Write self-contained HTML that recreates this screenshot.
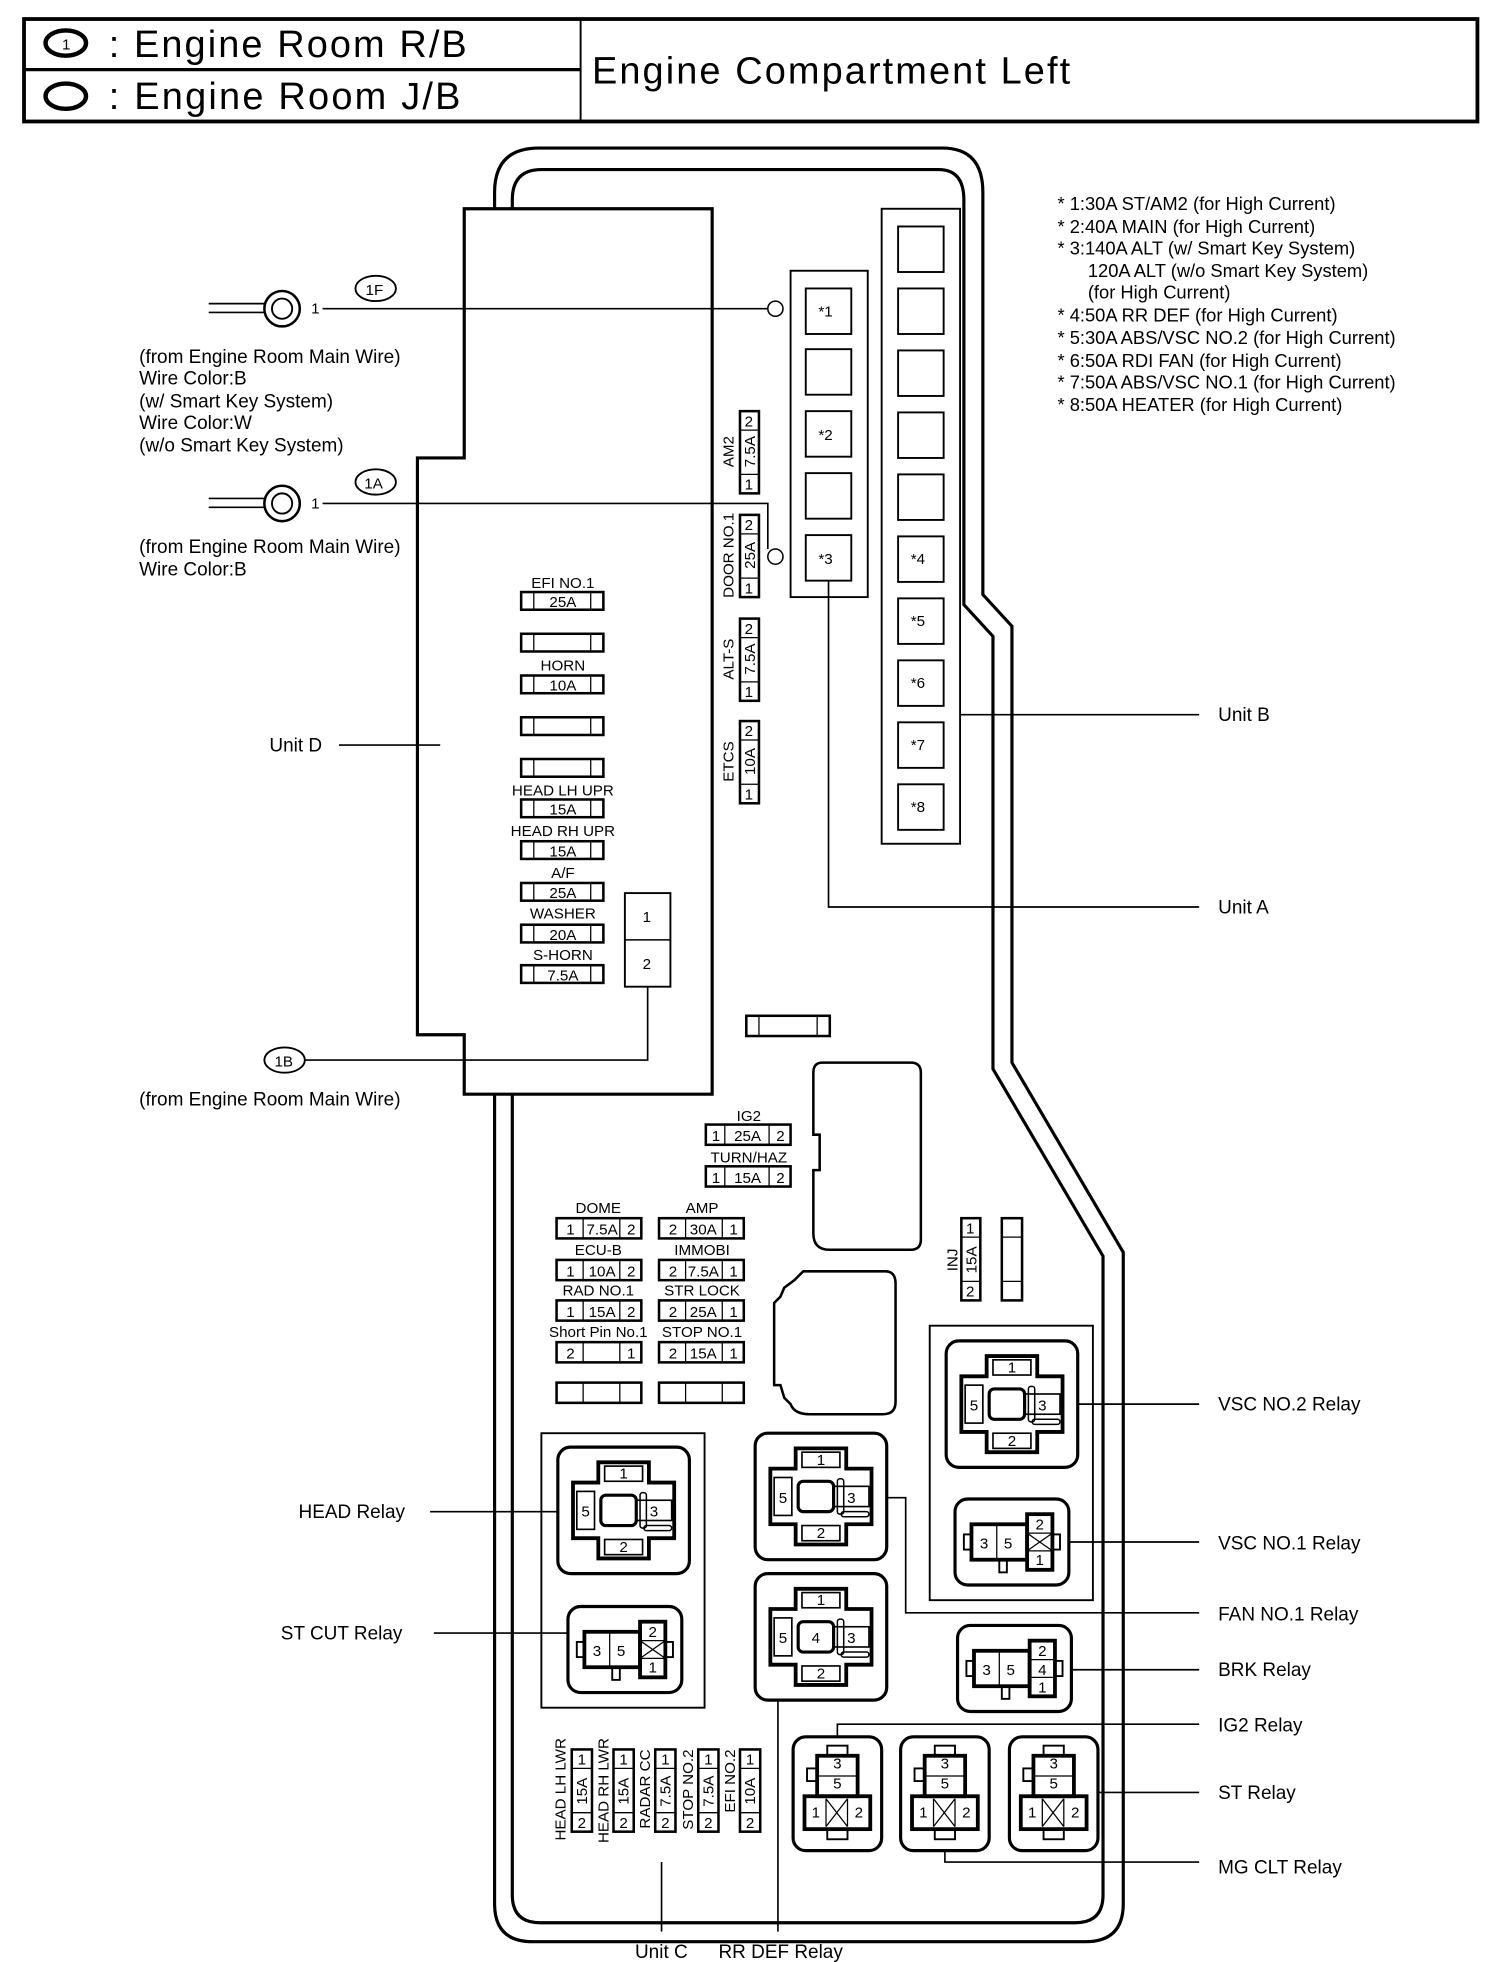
<!DOCTYPE html>
<html><head><meta charset="utf-8"><style>
html,body{margin:0;padding:0;background:#fff}
svg{display:block}
text{font-family:"Liberation Sans",Arial,sans-serif;fill:#000}
.t{font-size:15px}
.s{font-size:12px}
.f{font-size:12px;text-anchor:middle}
</style></head><body>
<svg width="1504" height="1962" viewBox="0 0 1189 1551" xmlns="http://www.w3.org/2000/svg">
<rect width="1189" height="1551" fill="#fff"/>
<!-- header -->
<g fill="none" stroke="#000">
<rect x="19" y="15" width="1149" height="81" stroke-width="3"/>
<line x1="459" y1="15" x2="459" y2="96" stroke-width="1.5"/>
<line x1="19" y1="55" x2="459" y2="55" stroke-width="2.5"/>
<ellipse cx="52" cy="34" rx="16" ry="10" stroke-width="3.5"/>
<ellipse cx="52" cy="76" rx="16" ry="10" stroke-width="3.5"/>
</g>
<text x="49" y="39" style="font-size:12px">1</text>
<text x="86" y="45" style="font-size:30px" textLength="283">: Engine Room R/B</text>
<text x="86" y="86" style="font-size:30px" textLength="278">: Engine Room J/B</text>
<text x="468" y="66" style="font-size:30px" textLength="378">Engine Compartment Left</text>

<!-- outline -->
<g fill="none" stroke="#000" stroke-width="2.5">
<path d="M391,165 L391,152 Q391,117 426,117 L745,117 Q777,117 777,152 L777,470 L800,495 L800,840 L888,990 L888,1505 Q888,1535 858,1535 L421,1535 Q391,1535 391,1505 L391,865"/>
<path d="M405,165 L405,158 Q405,134 428,134 L742,134 Q762,134 762,158 L762,478 L785,503 L785,845 L872,993 L872,1498 Q872,1520 850,1520 L427,1520 Q405,1520 405,1498 L405,865"/>
<path d="M367,165 H563 V865 H367 V818 H330 V362 H367 Z"/>
</g>
<!-- Unit A/B -->
<g fill="none" stroke="#000">
<rect x="625" y="214" width="61" height="258" stroke-width="1.5"/>
<rect x="697" y="165" width="62" height="502" stroke-width="1.5"/>
<g stroke-width="1.5">
<rect x="637" y="228" width="36" height="36"/><rect x="637" y="276" width="36" height="36"/><rect x="637" y="325" width="36" height="36"/><rect x="637" y="374" width="36" height="36"/><rect x="637" y="423" width="36" height="36"/>
<rect x="710" y="179" width="36" height="36"/><rect x="710" y="228" width="36" height="36"/><rect x="710" y="277" width="36" height="36"/><rect x="710" y="326" width="36" height="36"/><rect x="710" y="375" width="36" height="36"/>
<rect x="710" y="424" width="36" height="36"/><rect x="710" y="473" width="36" height="36"/><rect x="710" y="522" width="36" height="36"/><rect x="710" y="571" width="36" height="36"/><rect x="710" y="620" width="36" height="36"/>
</g>
<circle cx="613" cy="244" r="6" stroke-width="1.2"/>
<circle cx="613" cy="440" r="6" stroke-width="1.2"/>
</g>
<g class="s">
<text x="647" y="250">*1</text><text x="647" y="348">*2</text><text x="647" y="446">*3</text>
<text x="720" y="446">*4</text><text x="720" y="495">*5</text><text x="720" y="544">*6</text><text x="720" y="593">*7</text><text x="720" y="642">*8</text>
</g>

<!-- notes -->
<g class="t" style="font-size:14.5px">
<text x="836" y="166">* 1:30A ST/AM2 (for High Current)</text>
<text x="836" y="184">* 2:40A MAIN (for High Current)</text>
<text x="836" y="201">* 3:140A ALT (w/ Smart Key System)</text>
<text x="860" y="219">120A ALT (w/o Smart Key System)</text>
<text x="860" y="236">(for High Current)</text>
<text x="836" y="254">* 4:50A RR DEF (for High Current)</text>
<text x="836" y="272">* 5:30A ABS/VSC NO.2 (for High Current)</text>
<text x="836" y="290">* 6:50A RDI FAN (for High Current)</text>
<text x="836" y="307">* 7:50A ABS/VSC NO.1 (for High Current)</text>
<text x="836" y="325">* 8:50A HEATER (for High Current)</text>
</g>

<!-- terminals -->
<g fill="none" stroke="#000">
<line x1="165" y1="240" x2="210" y2="240" stroke-width="1.3"/><line x1="165" y1="247" x2="210" y2="247" stroke-width="1.3"/>
<circle cx="223" cy="244" r="14" stroke-width="2"/><circle cx="223" cy="244" r="8" stroke-width="1.5"/>
<line x1="165" y1="394" x2="210" y2="394" stroke-width="1.3"/><line x1="165" y1="401" x2="210" y2="401" stroke-width="1.3"/>
<circle cx="223" cy="398" r="14" stroke-width="2"/><circle cx="223" cy="398" r="8" stroke-width="1.5"/>
<ellipse cx="297" cy="228" rx="16" ry="10" stroke-width="1.5"/>
<ellipse cx="297" cy="381" rx="16" ry="10" stroke-width="1.5"/>
<ellipse cx="225" cy="838" rx="16" ry="10" stroke-width="1.5"/>
<polyline points="255,244 607,244" stroke-width="1.3"/>
<polyline points="255,398 607,398 607,434" stroke-width="1.3"/>
<polyline points="241,838 512,838 512,780" stroke-width="1.3"/>
<rect x="494" y="706" width="36" height="74" stroke-width="1.5"/><line x1="494" y1="743" x2="530" y2="743" stroke-width="1.2"/>
<line x1="268" y1="589" x2="348" y2="589" stroke-width="1.3"/>
</g>
<g class="s"><text x="289" y="233">1F</text><text x="288" y="386">1A</text><text x="217" y="843">1B</text>
<text x="246" y="248">1</text><text x="246" y="402">1</text><text x="508" y="729">1</text><text x="508" y="766">2</text></g>
<g class="t">
<text x="110" y="287">(from Engine Room Main Wire)</text>
<text x="110" y="304">Wire Color:B</text>
<text x="110" y="322">(w/ Smart Key System)</text>
<text x="110" y="339">Wire Color:W</text>
<text x="110" y="357">(w/o Smart Key System)</text>
<text x="110" y="437">(from Engine Room Main Wire)</text>
<text x="110" y="455">Wire Color:B</text>
<text x="110" y="874">(from Engine Room Main Wire)</text>
<text x="213" y="594">Unit D</text>
</g>

<!-- Unit D fuses -->
<g fill="none" stroke="#000" stroke-width="2">
<rect x="412" y="468" width="65" height="14"/><rect x="412" y="501" width="65" height="14"/><rect x="412" y="534" width="65" height="14"/><rect x="412" y="567" width="65" height="14"/><rect x="412" y="600" width="65" height="14"/><rect x="412" y="632" width="65" height="14"/><rect x="412" y="665" width="65" height="14"/><rect x="412" y="698" width="65" height="14"/><rect x="412" y="731" width="65" height="14"/><rect x="412" y="763" width="65" height="14"/>
</g>
<g stroke="#000" stroke-width="1">
<path d="M422,468v14M467,468v14M422,501v14M467,501v14M422,534v14M467,534v14M422,567v14M467,567v14M422,600v14M467,600v14M422,632v14M467,632v14M422,665v14M467,665v14M422,698v14M467,698v14M422,731v14M467,731v14M422,763v14M467,763v14"/>
</g>
<g class="f">
<text x="445" y="465">EFI NO.1</text><text x="445" y="480">25A</text>
<text x="445" y="530">HORN</text><text x="445" y="546">10A</text>
<text x="445" y="629">HEAD LH UPR</text><text x="445" y="644">15A</text>
<text x="445" y="661">HEAD RH UPR</text><text x="445" y="677">15A</text>
<text x="445" y="694">A/F</text><text x="445" y="710">25A</text>
<text x="445" y="726">WASHER</text><text x="445" y="743">20A</text>
<text x="445" y="759">S-HORN</text><text x="445" y="775">7.5A</text>
</g>

<!-- vertical fuses near Unit A -->
<g fill="none" stroke="#000" stroke-width="2">
<rect x="585" y="325" width="15" height="65"/><rect x="585" y="407" width="15" height="65"/><rect x="585" y="489" width="15" height="65"/><rect x="585" y="570" width="15" height="65"/>
</g>
<g stroke="#000" stroke-width="1"><path d="M585,340h15M585,375h15M585,422h15M585,457h15M585,504h15M585,539h15M585,585h15M585,620h15"/></g>
<g class="f">
<text x="592" y="337">2</text><text x="592" y="387">1</text><text x="592" y="419">2</text><text x="592" y="469">1</text><text x="592" y="501">2</text><text x="592" y="551">1</text><text x="592" y="582">2</text><text x="592" y="632">1</text>
<text transform="translate(597,357) rotate(-90)">7.5A</text>
<text transform="translate(597,439) rotate(-90)">25A</text>
<text transform="translate(597,521) rotate(-90)">7.5A</text>
<text transform="translate(597,602) rotate(-90)">10A</text>
<text transform="translate(580,357) rotate(-90)">AM2</text>
<text transform="translate(580,439) rotate(-90)">DOOR NO.1</text>
<text transform="translate(580,521) rotate(-90)">ALT-S</text>
<text transform="translate(580,602) rotate(-90)">ETCS</text>
</g>

<!-- middle misc -->
<g fill="none" stroke="#000" stroke-width="2">
<rect x="590" y="803" width="66" height="16"/>
<path d="M600,803v16M646,803v16" stroke-width="1"/>
<path d="M650,840 H720 Q728,840 728,848 V980 Q728,988 720,988 H656 Q643,988 643,975 V925 H648 V897 H643 V848 Q643,840 650,840 Z"/>
<path d="M635,1005 H700 Q708,1005 708,1015 V1108 Q708,1118 698,1118 H640 Q628,1118 625,1110 L620,1105 L617,1095 H612 V1030 L617,1025 L620,1018 L628,1012 Z"/>
<rect x="558" y="889" width="67" height="16"/><rect x="558" y="922" width="67" height="16"/>
<rect x="440" y="963" width="67" height="16"/><rect x="440" y="996" width="67" height="16"/><rect x="440" y="1028" width="67" height="16"/><rect x="440" y="1061" width="67" height="16"/><rect x="440" y="1093" width="67" height="16"/>
<rect x="521" y="963" width="67" height="16"/><rect x="521" y="996" width="67" height="16"/><rect x="521" y="1028" width="67" height="16"/><rect x="521" y="1061" width="67" height="16"/><rect x="521" y="1093" width="67" height="16"/>
<rect x="760" y="963" width="15" height="65"/><rect x="792" y="963" width="16" height="65"/>
</g>
<g stroke="#000" stroke-width="1">
<path d="M573,889v16M608,889v16M573,922v16M608,922v16"/>
<path d="M461,963v16M490,963v16M461,996v16M490,996v16M461,1028v16M490,1028v16M461,1061v16M490,1061v16M461,1093v16M490,1093v16"/>
<path d="M542,963v16M571,963v16M542,996v16M571,996v16M542,1028v16M571,1028v16M542,1061v16M571,1061v16M542,1093v16M571,1093v16"/>
<path d="M760,978h15M760,1013h15M792,978h16M792,1013h16"/>
</g>
<g class="f">
<text x="592" y="886">IG2</text><text x="566" y="902">1</text><text x="591" y="902">25A</text><text x="617" y="902">2</text>
<text x="592" y="919">TURN/HAZ</text><text x="566" y="935">1</text><text x="591" y="935">15A</text><text x="617" y="935">2</text>
<text x="473" y="959">DOME</text><text x="451" y="976">1</text><text x="476" y="976">7.5A</text><text x="499" y="976">2</text>
<text x="473" y="992">ECU-B</text><text x="451" y="1009">1</text><text x="476" y="1009">10A</text><text x="499" y="1009">2</text>
<text x="473" y="1024">RAD NO.1</text><text x="451" y="1041">1</text><text x="476" y="1041">15A</text><text x="499" y="1041">2</text>
<text x="473" y="1057">Short Pin No.1</text><text x="451" y="1074">2</text><text x="499" y="1074">1</text>
<text x="555" y="959">AMP</text><text x="532" y="976">2</text><text x="556" y="976">30A</text><text x="580" y="976">1</text>
<text x="555" y="992">IMMOBI</text><text x="532" y="1009">2</text><text x="556" y="1009">7.5A</text><text x="580" y="1009">1</text>
<text x="555" y="1024">STR LOCK</text><text x="532" y="1041">2</text><text x="556" y="1041">25A</text><text x="580" y="1041">1</text>
<text x="555" y="1057">STOP NO.1</text><text x="532" y="1074">2</text><text x="556" y="1074">15A</text><text x="580" y="1074">1</text>
<text x="767" y="975">1</text><text x="767" y="1025">2</text>
<text transform="translate(772,996) rotate(-90)">15A</text>
<text transform="translate(757,996) rotate(-90)">INJ</text>
</g>

<!-- group boxes -->
<g fill="none" stroke="#000" stroke-width="1.5">
<rect x="428" y="1133" width="129" height="217"/>
<rect x="735" y="1048" width="129" height="217"/>
</g>

<!-- big relays -->
<g fill="none" stroke="#000">
<g transform="translate(493,1194)">
<rect x="-52" y="-50" width="104" height="100" rx="10" stroke-width="2.5"/>
<path d="M-20,-38H20V-22H40V22H20V38H-20V22H-40V-22H-20Z" stroke-width="3"/>
<rect x="-15" y="-35" width="30" height="12" stroke-width="1.3"/><rect x="-15" y="23" width="30" height="12" stroke-width="1.3"/>
<rect x="-37" y="-15" width="14" height="30" stroke-width="1.3"/><rect x="10" y="-8" width="28" height="16" stroke-width="1.3"/>
<rect x="-18" y="-12" width="28" height="24" rx="4" stroke-width="2.5"/><rect x="13" y="-14" width="5" height="28" rx="2" stroke-width="1.2"/><rect x="16" y="12" width="22" height="4" rx="2" stroke-width="1.2"/>
</g>
<g transform="translate(800,1110)">
<rect x="-52" y="-50" width="104" height="100" rx="10" stroke-width="2.5"/>
<path d="M-20,-38H20V-22H40V22H20V38H-20V22H-40V-22H-20Z" stroke-width="3"/>
<rect x="-15" y="-35" width="30" height="12" stroke-width="1.3"/><rect x="-15" y="23" width="30" height="12" stroke-width="1.3"/>
<rect x="-37" y="-15" width="14" height="30" stroke-width="1.3"/><rect x="10" y="-8" width="28" height="16" stroke-width="1.3"/>
<rect x="-18" y="-12" width="28" height="24" rx="4" stroke-width="2.5"/><rect x="13" y="-14" width="5" height="28" rx="2" stroke-width="1.2"/><rect x="16" y="12" width="22" height="4" rx="2" stroke-width="1.2"/>
</g>
<g transform="translate(649,1183)">
<rect x="-52" y="-50" width="104" height="100" rx="10" stroke-width="2.5"/>
<path d="M-20,-38H20V-22H40V22H20V38H-20V22H-40V-22H-20Z" stroke-width="3"/>
<rect x="-15" y="-35" width="30" height="12" stroke-width="1.3"/><rect x="-15" y="23" width="30" height="12" stroke-width="1.3"/>
<rect x="-37" y="-15" width="14" height="30" stroke-width="1.3"/><rect x="10" y="-8" width="28" height="16" stroke-width="1.3"/>
<rect x="-18" y="-12" width="28" height="24" rx="4" stroke-width="2.5"/><rect x="13" y="-14" width="5" height="28" rx="2" stroke-width="1.2"/><rect x="16" y="12" width="22" height="4" rx="2" stroke-width="1.2"/>
</g>
<g transform="translate(649,1294)">
<rect x="-52" y="-50" width="104" height="100" rx="10" stroke-width="2.5"/>
<path d="M-20,-38H20V-22H40V22H20V38H-20V22H-40V-22H-20Z" stroke-width="3"/>
<rect x="-15" y="-35" width="30" height="12" stroke-width="1.3"/><rect x="-15" y="23" width="30" height="12" stroke-width="1.3"/>
<rect x="-37" y="-15" width="14" height="30" stroke-width="1.3"/><rect x="10" y="-8" width="28" height="16" stroke-width="1.3"/>
<rect x="-18" y="-12" width="28" height="24" rx="4" stroke-width="2.5"/><rect x="13" y="-14" width="5" height="28" rx="2" stroke-width="1.2"/><rect x="16" y="12" width="22" height="4" rx="2" stroke-width="1.2"/>
</g>
</g>
<g class="f">
<text x="493" y="1169">1</text><text x="493" y="1227">2</text><text x="463" y="1199">5</text><text x="517" y="1199">3</text>
<text x="800" y="1085">1</text><text x="800" y="1143">2</text><text x="770" y="1115">5</text><text x="824" y="1115">3</text>
<text x="649" y="1158">1</text><text x="649" y="1216">2</text><text x="619" y="1188">5</text><text x="673" y="1188">3</text>
<text x="649" y="1269">1</text><text x="649" y="1327">2</text><text x="619" y="1299">5</text><text x="673" y="1299">3</text><text x="645" y="1299">4</text>
</g>

<!-- small horizontal relays -->
<g fill="none" stroke="#000">
<g transform="translate(494,1304)">
<rect x="-45" y="-34" width="90" height="68" rx="10" stroke-width="2.5"/>
<rect x="-32" y="-14" width="44" height="28" stroke-width="3"/><rect x="12" y="-22" width="20" height="44" stroke-width="3"/>
<path d="M-12,-14v28M12,-7h20M12,7h20M12,-7l20,14M32,-7l-20,14" stroke-width="1"/>
<rect x="-38" y="-6" width="6" height="12" stroke-width="1.5"/><rect x="32" y="-6" width="6" height="12" stroke-width="1.5"/><rect x="-10" y="14" width="6" height="10" stroke-width="1.5"/>
</g>
<g transform="translate(800,1219)">
<rect x="-45" y="-34" width="90" height="68" rx="10" stroke-width="2.5"/>
<rect x="-32" y="-14" width="44" height="28" stroke-width="3"/><rect x="12" y="-22" width="20" height="44" stroke-width="3"/>
<path d="M-12,-14v28M12,-7h20M12,7h20M12,-7l20,14M32,-7l-20,14" stroke-width="1"/>
<rect x="-38" y="-6" width="6" height="12" stroke-width="1.5"/><rect x="32" y="-6" width="6" height="12" stroke-width="1.5"/><rect x="-10" y="14" width="6" height="10" stroke-width="1.5"/>
</g>
<g transform="translate(802,1319)">
<rect x="-45" y="-34" width="90" height="68" rx="10" stroke-width="2.5"/>
<rect x="-32" y="-14" width="44" height="28" stroke-width="3"/><rect x="12" y="-22" width="20" height="44" stroke-width="3"/>
<path d="M-12,-14v28M12,-7h20M12,7h20" stroke-width="1"/>
<rect x="-38" y="-6" width="6" height="12" stroke-width="1.5"/><rect x="32" y="-6" width="6" height="12" stroke-width="1.5"/><rect x="-10" y="14" width="6" height="10" stroke-width="1.5"/>
</g>
</g>
<g class="f">
<text x="472" y="1309">3</text><text x="491" y="1309">5</text><text x="516" y="1294">2</text><text x="516" y="1322">1</text>
<text x="778" y="1224">3</text><text x="797" y="1224">5</text><text x="822" y="1209">2</text><text x="822" y="1237">1</text>
<text x="780" y="1324">3</text><text x="799" y="1324">5</text><text x="824" y="1309">2</text><text x="824" y="1324">4</text><text x="824" y="1338">1</text>
</g>

<!-- bottom vertical relays -->
<g fill="none" stroke="#000">
<g transform="translate(662,1418)">
<rect x="-35" y="-45" width="70" height="90" rx="10" stroke-width="2.5"/>
<rect x="-16" y="-30" width="32" height="32" stroke-width="3"/><rect x="-26" y="2" width="52" height="26" stroke-width="3"/>
<path d="M-16,-14h32M-9,4v22M8,4v22M-9,4l17,22M8,4l-17,22" stroke-width="1"/>
<rect x="-8" y="-38" width="16" height="8" stroke-width="1.5"/><rect x="-24" y="-20" width="8" height="10" stroke-width="1.5"/><rect x="-8" y="28" width="16" height="8" stroke-width="1.5"/>
</g>
<g transform="translate(747,1418)">
<rect x="-35" y="-45" width="70" height="90" rx="10" stroke-width="2.5"/>
<rect x="-16" y="-30" width="32" height="32" stroke-width="3"/><rect x="-26" y="2" width="52" height="26" stroke-width="3"/>
<path d="M-16,-14h32M-9,4v22M8,4v22M-9,4l17,22M8,4l-17,22" stroke-width="1"/>
<rect x="-8" y="-38" width="16" height="8" stroke-width="1.5"/><rect x="-24" y="-20" width="8" height="10" stroke-width="1.5"/><rect x="-8" y="28" width="16" height="8" stroke-width="1.5"/>
</g>
<g transform="translate(833,1418)">
<rect x="-35" y="-45" width="70" height="90" rx="10" stroke-width="2.5"/>
<rect x="-16" y="-30" width="32" height="32" stroke-width="3"/><rect x="-26" y="2" width="52" height="26" stroke-width="3"/>
<path d="M-16,-14h32M-9,4v22M8,4v22M-9,4l17,22M8,4l-17,22" stroke-width="1"/>
<rect x="-8" y="-38" width="16" height="8" stroke-width="1.5"/><rect x="-24" y="-20" width="8" height="10" stroke-width="1.5"/><rect x="-8" y="28" width="16" height="8" stroke-width="1.5"/>
</g>
</g>
<g class="f">
<text x="662" y="1398">3</text><text x="662" y="1414">5</text><text x="645" y="1437">1</text><text x="679" y="1437">2</text>
<text x="747" y="1398">3</text><text x="747" y="1414">5</text><text x="730" y="1437">1</text><text x="764" y="1437">2</text>
<text x="833" y="1398">3</text><text x="833" y="1414">5</text><text x="816" y="1437">1</text><text x="850" y="1437">2</text>
</g>

<!-- Unit C fuses -->
<g fill="none" stroke="#000" stroke-width="2">
<rect x="452" y="1383" width="16" height="65"/><rect x="485" y="1383" width="16" height="65"/><rect x="518" y="1383" width="16" height="65"/><rect x="552" y="1383" width="16" height="65"/><rect x="585" y="1383" width="16" height="65"/>
</g>
<g stroke="#000" stroke-width="1"><path d="M452,1398h16M452,1433h16M485,1398h16M485,1433h16M518,1398h16M518,1433h16M552,1398h16M552,1433h16M585,1398h16M585,1433h16"/></g>
<g class="f">
<text x="460" y="1395">1</text><text x="460" y="1445">2</text><text x="493" y="1395">1</text><text x="493" y="1445">2</text><text x="526" y="1395">1</text><text x="526" y="1445">2</text><text x="560" y="1395">1</text><text x="560" y="1445">2</text><text x="593" y="1395">1</text><text x="593" y="1445">2</text>
<text transform="translate(464,1416) rotate(-90)">15A</text>
<text transform="translate(497,1416) rotate(-90)">15A</text>
<text transform="translate(530,1416) rotate(-90)">7.5A</text>
<text transform="translate(564,1416) rotate(-90)">7.5A</text>
<text transform="translate(597,1416) rotate(-90)">10A</text>
<text transform="translate(447,1374) rotate(-90)" style="text-anchor:end">HEAD LH LWR</text>
<text transform="translate(481,1374) rotate(-90)" style="text-anchor:end">HEAD RH LWR</text>
<text transform="translate(514,1383) rotate(-90)" style="text-anchor:end">RADAR CC</text>
<text transform="translate(548,1383) rotate(-90)" style="text-anchor:end">STOP NO.2</text>
<text transform="translate(581,1383) rotate(-90)" style="text-anchor:end">EFI NO.2</text>
</g>

<!-- leader lines -->
<g fill="none" stroke="#000" stroke-width="1.3">
<line x1="759" y1="565" x2="948" y2="565"/>
<polyline points="655,459 655,717 948,717"/>
<line x1="852" y1="1110" x2="948" y2="1110"/>
<line x1="845" y1="1219" x2="948" y2="1219"/>
<polyline points="701,1184 716,1184 716,1275 948,1275"/>
<line x1="847" y1="1320" x2="948" y2="1320"/>
<polyline points="662,1373 662,1363 948,1363"/>
<line x1="868" y1="1417" x2="948" y2="1417"/>
<polyline points="747,1463 747,1472 948,1472"/>
<line x1="340" y1="1195" x2="441" y2="1195"/>
<line x1="343" y1="1291" x2="449" y2="1291"/>
<line x1="523" y1="1472" x2="523" y2="1527"/>
<line x1="615" y1="1344" x2="615" y2="1527"/>
</g>
<g class="t">
<text x="963" y="570">Unit B</text>
<text x="963" y="722">Unit A</text>
<text x="963" y="1115">VSC NO.2 Relay</text>
<text x="963" y="1225">VSC NO.1 Relay</text>
<text x="963" y="1281">FAN NO.1 Relay</text>
<text x="963" y="1325">BRK Relay</text>
<text x="963" y="1369">IG2 Relay</text>
<text x="963" y="1422">ST Relay</text>
<text x="963" y="1481">MG CLT Relay</text>
<text x="236" y="1200">HEAD Relay</text>
<text x="222" y="1296">ST CUT Relay</text>
<text x="502" y="1548">Unit C</text>
<text x="568" y="1548">RR DEF Relay</text>
</g>
</svg>
</body></html>
